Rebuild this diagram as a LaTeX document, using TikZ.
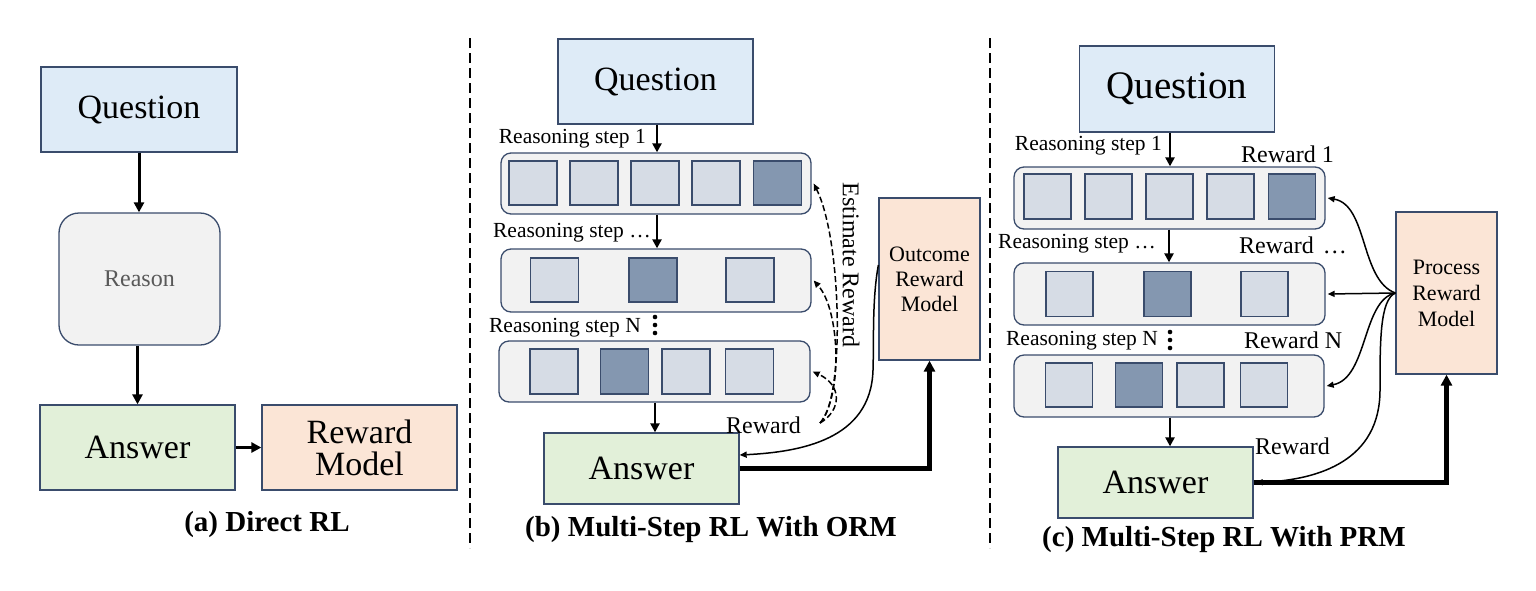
\documentclass[tikz,border=0pt]{standalone}
\usepackage{fontspec}
\setmainfont{Liberation Serif}
\usetikzlibrary{arrows.meta,calc}
\definecolor{qfill}{HTML}{DEEBF7}
\definecolor{afill}{HTML}{E2F0D9}
\definecolor{rfill}{HTML}{FBE5D6}
\definecolor{cfill}{HTML}{F2F2F2}
\definecolor{lite}{HTML}{D6DCE5}
\definecolor{dark}{HTML}{8497B0}
\definecolor{bord}{HTML}{3A4C6C}
\definecolor{rtext}{HTML}{595959}
\newcommand{\fsz}[1]{\fontsize{#1}{#1}\selectfont}
\begin{document}
\begin{tikzpicture}[x=1pt,y=-1pt,
  bx/.style={draw=bord,line width=1.3pt,inner sep=0pt,align=center},
  cont/.style={bx,fill=cfill,rounded corners=10pt},
  sq/.style={bx,minimum width=48pt,minimum height=44pt},
  lbl/.style={inner sep=0pt,font=\fsz{21.5}},
  rlbl/.style={inner sep=0pt,font=\fsz{24}},
  captxt/.style={inner sep=0pt,font=\bfseries\fsz{29}},
  arrA/.style={line width=3pt,-{Triangle[length=10pt,width=10pt]}},
  arrB/.style={line width=2.6pt,-{Triangle[length=9pt,width=9pt]}},
  thickarr/.style={line width=4.2pt,-{Triangle[length=11pt,width=11pt]}},
  thinarr/.style={line width=1.5pt,-{Triangle[length=7pt,width=6pt]}},
  dasharr/.style={thinarr,dash pattern=on 6pt off 3pt},
  divider/.style={line width=2pt,dash pattern=on 10pt off 5pt}]
\useasboundingbox (0,0) rectangle (1536,590);

% ---------------- dividers
\coordinate (d1t) at (470,38); \coordinate (d1b) at (470,548);
\coordinate (d2t) at (990,38); \coordinate (d2b) at (990,548);
\draw[divider] (d1t) -- (d1b);
\draw[divider] (d2t) -- (d2b);

% ---------------- panel (a)
\node[bx,fill=qfill,minimum width=196pt,minimum height=85pt,font=\fsz{34}] (qa) at (139,109.5) {Question};
\node[bx,fill=cfill,rounded corners=20pt,minimum width=161pt,minimum height=132pt,font=\fsz{24},text=rtext] (ra) at (139.5,279) {Reason};
\node[bx,fill=afill,minimum width=195pt,minimum height=85pt,font=\fsz{34}] (aa) at (137.5,447.5) {Answer};
\node[bx,fill=rfill,minimum width=195pt,minimum height=85pt,font=\fontsize{34}{32}\selectfont] (rma) at (359.5,447.5) {Reward\\Model};
\draw[arrA] (qa.south) -- (qa.south |- ra.north);
\draw[arrA] (aa.north |- ra.south) -- (aa.north);
\draw[arrA] (aa.east) -- (rma.west);
\node[captxt] (capa) at (267,525) {(a) Direct RL};

% ---------------- panel (b)
\node[bx,fill=qfill,minimum width=195pt,minimum height=85pt,font=\fsz{34}] (qb) at (655.5,81.5) {Question};
\node[cont,minimum width=310pt,minimum height=61pt] (b1) at (656,183.5) {};
\node[cont,minimum width=310pt,minimum height=63pt] (b2) at (656,280.5) {};
\node[cont,minimum width=311pt,minimum height=61pt] (b3) at (654.5,371.5) {};
\foreach \x/\c [count=\i] in {533/lite,594/lite,655/lite,716/lite,777.5/dark}
  \node[sq,fill=\c] (b1s\i) at (\x,183) {};
\foreach \x/\c [count=\i] in {554.5/lite,653/dark,750/lite}
  \node[sq,fill=\c] (b2s\i) at (\x,280) {};
\foreach \x/\c [count=\i] in {554/lite,624.5/dark,686/lite,749.5/lite}
  \node[sq,fill=\c,minimum height=45pt] (b3s\i) at (\x,371.5) {};
\node[bx,fill=afill,minimum width=195pt,minimum height=71pt,font=\fsz{34}] (ab) at (641.5,468.5) {Answer};
\node[bx,fill=rfill,minimum width=101pt,minimum height=162pt,font=\fontsize{22}{25}\selectfont] (orm) at (929.5,279) {Outcome\\Reward\\Model};

\node[lbl,anchor=base east] (lb1) at (646,143) {Reasoning step 1};
\node[lbl,anchor=base east] (lb2) at (651,237) {Reasoning step …};
\node[lbl,anchor=base east] (lb3) at (641,332) {Reasoning step N};
\fill (655,317) circle (2.3pt) (655,325) circle (2.3pt) (655,333) circle (2.3pt);
\node[rlbl,anchor=base west] (rwb) at (726,433) {Reward};
\node[rlbl,rotate=-90] (est) at (851,265) {Estimate Reward};

\draw[arrB] (qb.south -| 657,0) -- (b1.north -| 657,0);
\draw[arrB] (b1.south -| 657,0) -- (b2.north -| 657,0);
\draw[arrB] (b3.south -| 655,0) -- (ab.north -| 655,0);
\draw[thickarr] (ab.east) -| (orm.south);
\draw[thinarr] ([yshift=14pt]orm.west) .. controls (872,300) and (874,340) .. (873,370)
   .. controls (871,440) and (800,452) .. ([yshift=13.5pt]ab.east);
\coordinate (ds) at (820,423);
\draw[dasharr] (ds) .. controls (845,400) and (842,240) .. ([xshift=2pt]b1.east);
\draw[dasharr] (ds) .. controls (843,395) and (840,310) .. ([xshift=2pt]b2.east);
\draw[dasharr] (ds) .. controls (842,410) and (842,385) .. ([xshift=2pt]b3.east);
\node[captxt] (capb) at (711,530) {(b) Multi-Step RL With ORM};

% ---------------- panel (c)
\node[bx,fill=qfill,minimum width=195pt,minimum height=86pt,font=\fsz{39}] (qc) at (1177,89) {Question};
\node[cont,minimum width=311pt,minimum height=62pt] (c1) at (1169.5,198) {};
\node[cont,minimum width=311pt,minimum height=62pt] (c2) at (1169.5,294) {};
\node[cont,minimum width=310pt,minimum height=62pt] (c3) at (1169,386) {};
\foreach \x/\c [count=\i] in {1047.5/lite,1108.5/lite,1169.5/lite,1230.5/lite,1292/dark}
  \node[sq,fill=\c,minimum width=47pt,minimum height=45pt] (c1s\i) at (\x,196.5) {};
\foreach \x/\c [count=\i] in {1069.5/lite,1167.5/dark,1264.5/lite}
  \node[sq,fill=\c,minimum width=47pt,minimum height=45pt] (c2s\i) at (\x,294) {};
\foreach \x/\c [count=\i] in {1069/lite,1139/dark,1200.5/lite,1264/lite}
  \node[sq,fill=\c,minimum width=47pt,minimum height=44pt] (c3s\i) at (\x,385) {};
\node[bx,fill=afill,minimum width=195pt,minimum height=71pt,font=\fsz{34}] (ac) at (1155.5,482.5) {Answer};
\node[bx,fill=rfill,minimum width=101pt,minimum height=162pt,font=\fontsize{22}{26}\selectfont] (prm) at (1446.5,293) {Process\\Reward\\Model};

\node[lbl,anchor=base east] (lc1) at (1162,150) {Reasoning step 1};
\node[lbl,anchor=base east] (lc2) at (1156,248) {Reasoning step …};
\node[lbl,anchor=base east] (lc3) at (1158,345) {Reasoning step N};
\fill (1170,332) circle (2.3pt) (1170,340) circle (2.3pt) (1170,348) circle (2.3pt);
\node[rlbl,anchor=base west] (rc1) at (1241,162) {Reward 1};
\node[rlbl,anchor=base west] (rc2) at (1239,253) {Reward\hspace{9pt}…};
\node[rlbl,anchor=base west] (rc3) at (1244,348) {Reward N};
\node[rlbl,anchor=base west] (rc4) at (1255,454) {Reward};

\draw[arrB] (qc.south -| 1170,0) -- (c1.north -| 1170,0);
\draw[arrB] (c1.south -| 1169,0) -- (c2.north -| 1169,0);
\draw[arrB] (c3.south -| 1170,0) -- (ac.north -| 1170,0);
\draw[thickarr] (ac.east) -| (prm.south);
\draw[thinarr] (prm.west) .. controls (1360,280) and (1368,205) .. ([xshift=2pt]c1.east);
\draw[thinarr] (prm.west) -- ([xshift=2pt]c2.east);
\draw[thinarr] (prm.west) .. controls (1362,300) and (1368,378) .. ([xshift=2pt]c3.east);
\draw[thinarr] (prm.west) .. controls (1380,300) and (1380,340) .. (1380,390)
   .. controls (1380,460) and (1320,480) .. ([xshift=2pt]ac.east);
\node[captxt] (capc) at (1224,540) {(c) Multi-Step RL With PRM};
\end{tikzpicture}
\end{document}
